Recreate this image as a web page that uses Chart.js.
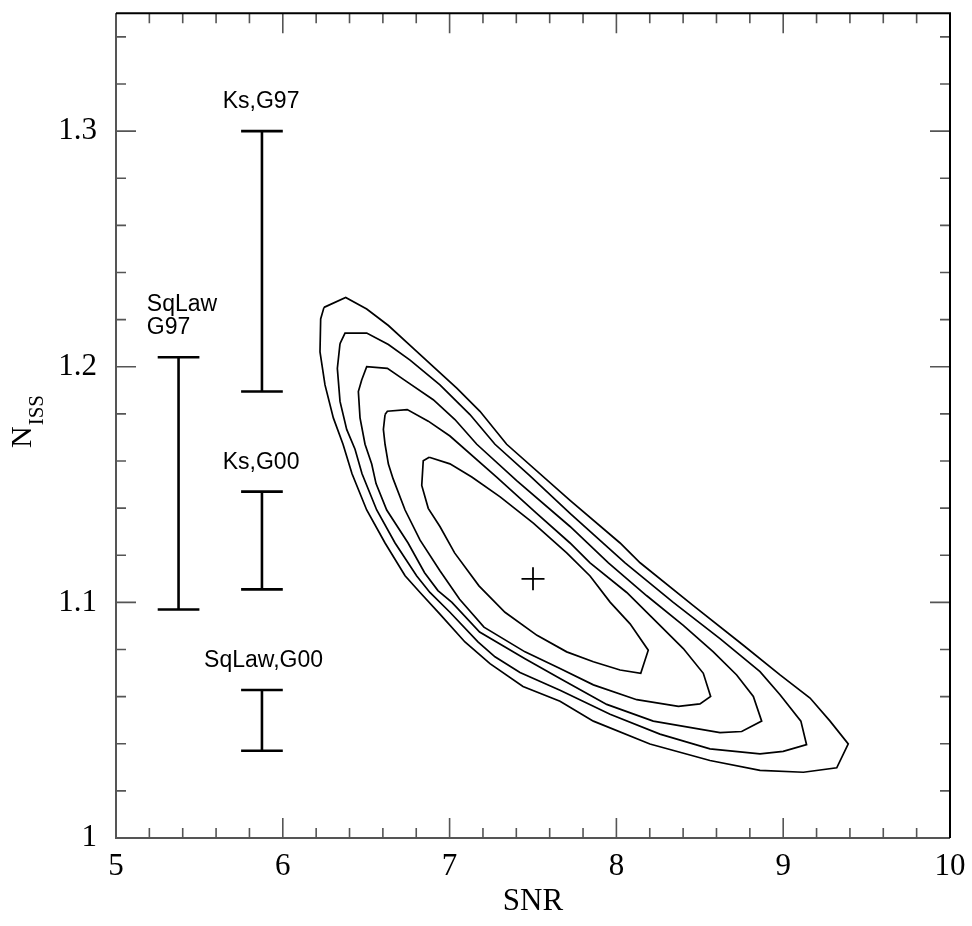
<!DOCTYPE html>
<html>
<head>
<meta charset="utf-8">
<script src="https://cdn.jsdelivr.net/npm/chart.js@4.4.1/dist/chart.umd.min.js"></script>
<style>
  html, body { margin: 0; padding: 0; background: #fff; }
</style>
</head>
<body>
<canvas id="chart" width="972" height="926"></canvas>
<script>
// ---- axis ticks ----
const xTicks = [5, 6, 7, 8, 9, 10];
const yTicks = [1, 1.1, 1.2, 1.3];

// ---- confidence contours in (SNR, N_ISS), outer -> inner ----
const contour1 = [
  [6.247,1.2252],[6.377,1.2294],[6.503,1.2245],[6.633,1.2175],[6.763,1.2091],[6.902,1.2000],
  [7.043,1.1909],[7.182,1.1811],[7.342,1.1671],[7.722,1.1433],[8.022,1.1252],[8.142,1.1168],
  [8.461,1.0986],[8.761,1.0818],[8.981,1.0692],[9.161,1.0594],[9.281,1.0496],[9.390,1.0399],
  [9.321,1.0298],[9.121,1.0279],[8.861,1.0287],[8.561,1.0329],[8.201,1.0399],[7.862,1.0496],
  [7.662,1.0580],[7.440,1.0643],[7.242,1.0740],[7.092,1.0832],[6.942,1.0950],[6.823,1.1042],
  [6.733,1.1113],[6.613,1.1252],[6.503,1.1392],[6.415,1.1546],[6.361,1.1671],[6.303,1.1783],
  [6.253,1.1923],[6.223,1.2063],[6.227,1.2203]
];
const contour2 = [
  [6.343,1.2098],[6.373,1.2143],[6.503,1.2143],[6.633,1.2094],[6.763,1.2028],[6.942,1.1923],
  [7.122,1.1797],[7.272,1.1671],[7.482,1.1537],[7.722,1.1378],[8.052,1.1168],[8.341,1.1000],
  [8.621,1.0846],[8.861,1.0706],[8.981,1.0608],[9.106,1.0496],[9.140,1.0396],[9.000,1.0368],
  [8.861,1.0357],[8.561,1.0378],[8.261,1.0441],[7.962,1.0525],[7.662,1.0627],[7.422,1.0702],
  [7.272,1.0769],[7.170,1.0832],[7.002,1.0958],[6.882,1.1042],[6.803,1.1112],[6.673,1.1252],
  [6.563,1.1392],[6.475,1.1546],[6.433,1.1650],[6.383,1.1734],[6.343,1.1853],[6.327,1.1993]
];
const contour3 = [
  [6.473,1.1944],[6.503,1.2000],[6.627,1.1993],[6.743,1.1937],[6.902,1.1860],[7.032,1.1776],
  [7.163,1.1671],[7.402,1.1517],[7.722,1.1322],[7.952,1.1168],[8.182,1.1028],[8.401,1.0902],
  [8.581,1.0790],[8.721,1.0692],[8.821,1.0601],[8.871,1.0496],[8.751,1.0452],[8.621,1.0447],
  [8.221,1.0496],[7.942,1.0567],[7.662,1.0677],[7.452,1.0761],[7.180,1.0874],[7.014,1.1000],
  [6.930,1.1050],[6.850,1.1126],[6.751,1.1252],[6.623,1.1392],[6.559,1.1504],[6.533,1.1587],
  [6.493,1.1671],[6.463,1.1783],[6.453,1.1895]
];
const contour4 = [
  [6.613,1.1797],[6.627,1.1811],[6.746,1.1818],[6.872,1.1769],[7.002,1.1706],[7.282,1.1532],
  [7.522,1.1378],[7.722,1.1252],[7.842,1.1168],[8.062,1.1042],[8.261,1.0902],[8.401,1.0804],
  [8.521,1.0699],[8.565,1.0601],[8.501,1.0569],[8.372,1.0559],[8.122,1.0587],[7.862,1.0650],
  [7.662,1.0719],[7.452,1.0790],[7.206,1.0895],[7.060,1.1013],[6.942,1.1134],[6.823,1.1264],
  [6.733,1.1392],[6.661,1.1525],[6.633,1.1587],[6.613,1.1671],[6.603,1.1734]
];
const contour5 = [
  [6.878,1.1616],[7.002,1.1588],[7.133,1.1532],[7.303,1.1448],[7.502,1.1336],[7.702,1.1210],
  [7.842,1.1112],[7.962,1.1001],[8.082,1.0909],[8.191,1.0797],[8.146,1.0699],[8.022,1.0713],
  [7.862,1.0748],[7.702,1.0790],[7.524,1.0860],[7.332,1.0958],[7.176,1.1070],[7.030,1.1210],
  [6.942,1.1322],[6.872,1.1399],[6.833,1.1496],[6.842,1.1601]
];
const contours = [contour1, contour2, contour3, contour4, contour5];

// best-fit point
const bestSnr = 7.5;
const bestN = 1.11;

// ---- literature ranges (error bars) ----
const barNames = [['SqLaw', 'G97'], ['Ks,G97'], ['Ks,G00'], ['SqLaw,G00']];
const barSnr = [5.375, 5.875, 5.875, 5.875];
const barLow = [1.097, 1.1895, 1.1055, 1.037];
const barHigh = [1.204, 1.300, 1.147, 1.0628];
const labelSnr = [5.185, 5.64, 5.64, 5.528];

const CAP = 0.125;
const SERIF = '"Liberation Serif", "DejaVu Serif", serif';
const SANS = '"Liberation Sans", Arial, sans-serif';

function closed(pts) {
  const out = pts.map(p => ({ x: p[0], y: p[1] }));
  out.push({ x: pts[0][0], y: pts[0][1] });
  return out;
}

function errorBar(i) {
  const x = barSnr[i], lo = barLow[i], hi = barHigh[i];
  return [
    { x: x - CAP, y: hi }, { x: x + CAP, y: hi }, { x: x, y: null },
    { x: x, y: hi }, { x: x, y: lo }, { x: x, y: null },
    { x: x - CAP, y: lo }, { x: x + CAP, y: lo }
  ];
}

const datasets = [];
contours.forEach(c => {
  datasets.push({
    data: closed(c),
    showLine: true,
    borderColor: '#000',
    borderWidth: 1.7,
    pointRadius: 0,
    tension: 0
  });
});
barSnr.forEach((_, i) => {
  datasets.push({
    data: errorBar(i),
    showLine: true,
    spanGaps: false,
    borderColor: '#000',
    borderWidth: 2.6,
    borderCapStyle: 'butt',
    pointRadius: 0
  });
});
datasets.push({
  data: [{ x: bestSnr, y: bestN }],
  pointStyle: 'cross',
  pointRadius: 11.5,
  borderColor: '#000',
  backgroundColor: '#000',
  pointBorderWidth: 1.8
});

// frame, inward ticks, y title and annotations
const framePlugin = {
  id: 'frame',
  afterDatasetsDraw(chart) {
    const { ctx, chartArea: a, scales } = chart;
    const xs = scales.x, ys = scales.y;
    ctx.save();

    // ticks
    ctx.strokeStyle = '#555';
    ctx.lineWidth = 1.6;
    ctx.beginPath();
    for (let k = 0; k <= 25; k++) {
      const v = 5 + k * 0.2;
      const len = k % 5 === 0 ? 20 : 10;
      const px = xs.getPixelForValue(v);
      ctx.moveTo(px, a.bottom); ctx.lineTo(px, a.bottom - len);
      ctx.moveTo(px, a.top); ctx.lineTo(px, a.top + len);
    }
    for (let k = 0; k <= 17; k++) {
      const v = 1 + k * 0.02;
      const len = k % 5 === 0 ? 20 : 10;
      const py = ys.getPixelForValue(v);
      ctx.moveTo(a.left, py); ctx.lineTo(a.left + len, py);
      ctx.moveTo(a.right, py); ctx.lineTo(a.right - len, py);
    }
    ctx.stroke();

    // box
    ctx.lineWidth = 2;
    ctx.strokeStyle = '#555';
    ctx.beginPath();
    ctx.moveTo(a.left, a.top); ctx.lineTo(a.left, a.bottom); ctx.lineTo(a.right, a.bottom);
    ctx.stroke();
    ctx.strokeStyle = '#000';
    ctx.beginPath();
    ctx.moveTo(a.left, a.top); ctx.lineTo(a.right, a.top); ctx.lineTo(a.right, a.bottom);
    ctx.stroke();

    // annotations
    ctx.fillStyle = '#000';
    ctx.font = '23px ' + SANS;
    ctx.textAlign = 'left';
    ctx.textBaseline = 'alphabetic';
    barNames.forEach((lines, i) => {
      const px = xs.getPixelForValue(labelSnr[i]);
      const base = ys.getPixelForValue(barHigh[i]) - 23;
      lines.slice().reverse().forEach((t, j) => {
        ctx.fillText(t, px, base - j * 23);
      });
    });

    // y title N_ISS
    ctx.translate(31, 448);
    ctx.rotate(-Math.PI / 2);
    ctx.font = '30px ' + SERIF;
    ctx.fillText('N', 0, 0);
    const w = ctx.measureText('N').width;
    ctx.font = '21px ' + SERIF;
    ctx.fillText('ISS', w + 1, 12);
    ctx.restore();
  }
};

new Chart(document.getElementById('chart'), {
  type: 'scatter',
  data: { datasets },
  options: {
    responsive: false,
    devicePixelRatio: 1,
    animation: false,
    layout: { padding: { top: 4, right: 22, left: 0, bottom: 0 } },
    plugins: { legend: { display: false }, tooltip: { enabled: false } },
    scales: {
      x: {
        type: 'linear',
        min: 5,
        max: 10,
        grid: { display: false, drawTicks: false },
        border: { display: false },
        afterBuildTicks: s => { s.ticks = xTicks.map(v => ({ value: v })); },
        afterFit: s => { s.height = 88; s.paddingLeft = 0; s.paddingRight = 0; },
        ticks: {
          color: '#000',
          font: { family: SERIF, size: 31 },
          padding: 10,
          maxRotation: 0,
          autoSkip: false,
          callback: v => String(v)
        },
        title: {
          display: true,
          text: 'SNR',
          color: '#000',
          font: { family: SERIF, size: 31 },
          padding: { top: 0, bottom: 6 }
        }
      },
      y: {
        type: 'linear',
        min: 1,
        max: 1.35,
        grid: { display: false, drawTicks: false },
        border: { display: false },
        afterBuildTicks: s => { s.ticks = yTicks.map(v => ({ value: v })); },
        afterFit: s => { s.width = 116; s.paddingTop = 0; s.paddingBottom = 0; },
        ticks: {
          color: '#000',
          font: { family: SERIF, size: 31 },
          padding: 19,
          autoSkip: false,
          callback: v => String(v)
        }
      }
    }
  },
  plugins: [framePlugin]
});
</script>
</body>
</html>
